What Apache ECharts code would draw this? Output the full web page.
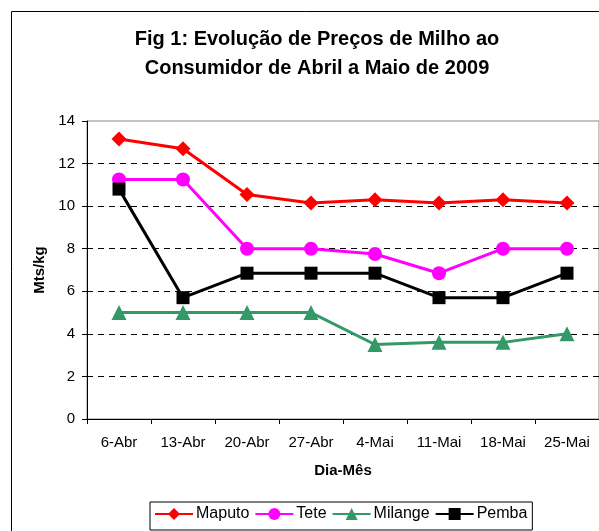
<!DOCTYPE html>
<html>
<head>
<meta charset="utf-8">
<script src="https://cdn.jsdelivr.net/npm/echarts@6/dist/echarts.min.js"></script>
<style>
  html, body { margin: 0; padding: 0; background: #fff; }
  #chart { width: 599px; height: 531px; }
</style>
</head>
<body>
<div id="chart"></div>
<script>
// dados
var datas = ['6-Abr', '13-Abr', '20-Abr', '27-Abr', '4-Mai', '11-Mai', '18-Mai', '25-Mai'];
var maputo = [13.15, 12.7, 10.55, 10.15, 10.3, 10.15, 10.3, 10.15];
var tete = [11.25, 11.25, 8, 8, 7.75, 6.85, 8, 8];
var milange = [5, 5, 5, 5, 3.5, 3.6, 3.6, 4];
var pemba = [10.8, 5.7, 6.85, 6.85, 6.85, 5.7, 5.7, 6.85];

var fonte = '"Liberation Sans", Arial, sans-serif';

var chart = echarts.init(document.getElementById('chart'));

function serie(nome, dados, cor, simbolo, tamanho) {
    return {
        name: nome,
        type: 'line',
        data: dados,
        symbol: simbolo,
        symbolSize: tamanho,
        lineStyle: { color: cor, width: 3 },
        itemStyle: { color: cor },
        emphasis: { disabled: true },
        animation: false
    };
}

var option = {
    backgroundColor: '#fff',
    textStyle: { fontFamily: fonte },
    graphic: [{
        type: 'rect',
        shape: { x: 11.5, y: 11.5, width: 620, height: 620 },
        style: { fill: 'none', stroke: '#000', lineWidth: 1 },
        z: -1
    }],
    title: {
        text: 'Fig 1: Evolução de Preços de Milho ao\nConsumidor de Abril a Maio de 2009',
        left: 312,
        top: 20,
        textAlign: 'center',
        textStyle: { fontSize: 20, fontWeight: 'bold', color: '#000', lineHeight: 29, fontFamily: fonte, align: 'center' }
    },
    grid: {
        left: 87, top: 121, width: 513, height: 298,
        show: true, borderColor: '#888', borderWidth: 1
    },
    legend: {
        data: ['Maputo', 'Tete', 'Milange', 'Pemba'],
        left: 150, top: 502,
        itemWidth: 38, itemHeight: 15, itemGap: 5,
        padding: [4, 5, 8, 4],
        borderColor: '#000', borderWidth: 1,
        textStyle: { fontSize: 16, color: '#000', fontFamily: fonte, padding: [0, 0, 0, -2] }
    },
    xAxis: {
        type: 'category',
        data: datas,
        boundaryGap: true,
        name: 'Dia-Mês',
        nameLocation: 'middle',
        nameGap: 44,
        nameTextStyle: { fontSize: 15, fontWeight: 'bold', color: '#000' },
        axisLine: { lineStyle: { color: '#000', width: 1 } },
        axisTick: { show: true, alignWithLabel: false, length: 5, lineStyle: { color: '#000' } },
        axisLabel: { fontSize: 15, color: '#000', margin: 16, interval: 0 }
    },
    yAxis: {
        type: 'value',
        min: 0, max: 14, interval: 2,
        name: 'Mts/kg',
        nameLocation: 'middle',
        nameGap: 39,
        nameTextStyle: { fontSize: 15, fontWeight: 'bold', color: '#000' },
        axisLine: { show: true, lineStyle: { color: '#000', width: 1 } },
        axisTick: { show: true, length: 5, lineStyle: { color: '#000' } },
        axisLabel: { fontSize: 15, color: '#000', margin: 12 },
        splitLine: {
            show: true,
            lineStyle: {
                color: ['transparent', '#000', '#000', '#000', '#000', '#000', '#000', 'transparent'],
                type: [6, 5], width: 1
            }
        }
    },
    series: [
        serie('Maputo', maputo, '#ff0000', 'diamond', 15),
        serie('Tete', tete, '#ff00ff', 'circle', 14),
        serie('Milange', milange, '#339966', 'triangle', 15),
        serie('Pemba', pemba, '#000000', 'rect', 13)
    ]
};

chart.setOption(option);
</script>
</body>
</html>
